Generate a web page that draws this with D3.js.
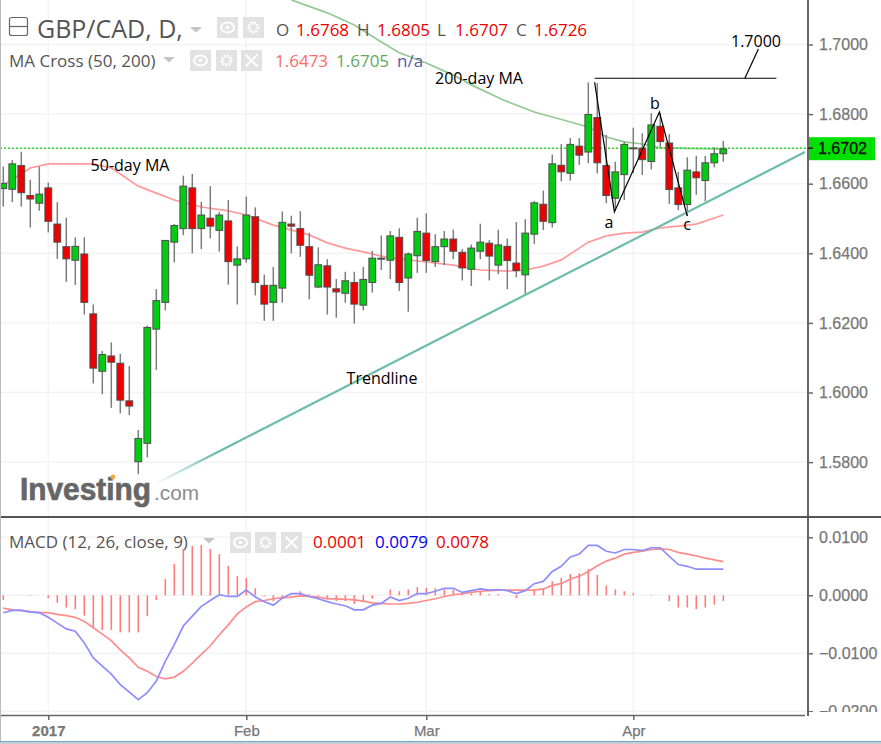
<!DOCTYPE html>
<html><head><meta charset="utf-8">
<script src="https://cdn.jsdelivr.net/npm/d3@7/dist/d3.min.js"></script>
<style>html,body{margin:0;padding:0;background:#fff;overflow:hidden}svg{display:block}</style>
</head><body><div id="c"></div>
<script>
const open_=[1.6586,1.6584,1.6652,1.6566,1.6544,1.6588,1.6484,1.6419,1.6380,1.6398,1.6226,1.6061,1.6105,1.6084,1.5976,1.5801,1.5854,1.6182,1.6259,1.6432,1.6471,1.6588,1.6471,1.6501,1.6466,1.6493,1.6366,1.6384,1.6505,1.6308,1.6259,1.6300,1.6484,1.6471,1.6419,1.6303,1.6364,1.6298,1.6285,1.6316,1.6251,1.6316,1.6385,1.6380,1.6446,1.6329,1.6393,1.6458,1.6376,1.6419,1.6441,1.6403,1.6354,1.6406,1.6429,1.6366,1.6420,1.6372,1.6338,1.6455,1.6541,1.6488,1.6653,1.6630,1.6708,1.6691,1.6790,1.6652,1.6558,1.6626,1.6700,1.6702,1.6664,1.6765,1.6717,1.6588,1.6540,1.6634,1.6609,1.6660,1.6686];
const close_=[1.6601,1.6657,1.6574,1.6556,1.6570,1.6492,1.6432,1.6384,1.6420,1.6259,1.6070,1.6109,1.6087,1.5978,1.5961,1.5868,1.6187,1.6264,1.6437,1.6480,1.6593,1.6471,1.6510,1.6478,1.6510,1.6376,1.6384,1.6510,1.6316,1.6254,1.6308,1.6489,1.6478,1.6423,1.6337,1.6367,1.6303,1.6289,1.6321,1.6254,1.6325,1.6386,1.6386,1.6450,1.6316,1.6398,1.6463,1.6379,1.6419,1.6441,1.6406,1.6358,1.6415,1.6432,1.6392,1.6424,1.6379,1.6350,1.6458,1.6545,1.6492,1.6657,1.6634,1.6713,1.6682,1.6799,1.6660,1.6566,1.6634,1.6713,1.6703,1.6669,1.6769,1.6721,1.6583,1.6540,1.6639,1.6617,1.6660,1.6686,1.6700];
const high_=[1.6649,1.6668,1.6692,1.6611,1.6649,1.6603,1.6547,1.6502,1.6446,1.6446,1.6253,1.6119,1.6144,1.6111,1.6076,1.5892,1.6192,1.6297,1.6437,1.6484,1.6623,1.6628,1.6548,1.6593,1.6519,1.6553,1.6420,1.6563,1.6532,1.6339,1.6361,1.6520,1.6508,1.6521,1.6459,1.6417,1.6383,1.6326,1.6347,1.6347,1.6361,1.6407,1.6451,1.6464,1.6472,1.6403,1.6502,1.6515,1.6455,1.6464,1.6468,1.6412,1.6425,1.6485,1.6438,1.6468,1.6442,1.6490,1.6498,1.6550,1.6580,1.6684,1.6714,1.6731,1.6731,1.6891,1.6889,1.6740,1.6663,1.6721,1.6761,1.6745,1.6803,1.6803,1.6743,1.6634,1.6676,1.6680,1.6680,1.6705,1.6723];
const low_=[1.6534,1.6547,1.6534,1.6474,1.6522,1.6460,1.6384,1.6318,1.6309,1.6224,1.6026,1.5995,1.5956,1.5940,1.5935,1.5765,1.5814,1.6065,1.6236,1.6374,1.6452,1.6400,1.6412,1.6443,1.6405,1.6310,1.6253,1.6373,1.6279,1.6206,1.6206,1.6258,1.6400,1.6390,1.6268,1.6300,1.6224,1.6215,1.6258,1.6198,1.6236,1.6287,1.6352,1.6326,1.6292,1.6232,1.6344,1.6344,1.6361,1.6366,1.6383,1.6322,1.6306,1.6383,1.6322,1.6340,1.6297,1.6331,1.6284,1.6427,1.6467,1.6474,1.6607,1.6609,1.6654,1.6659,1.6630,1.6544,1.6524,1.6553,1.6630,1.6625,1.6641,1.6705,1.6542,1.6524,1.6507,1.6568,1.6550,1.6647,1.6663];
const ma50Day=[0,3,5,10,12,15,17,19,22,25,27,30,34,36,38,40,42,44,47,50,53,56,58,60,62,65,67,69,71,73,75,77,80];
const ma50Val=[1.6596,1.6645,1.6657,1.6657,1.6645,1.6593,1.6573,1.6553,1.6533,1.6522,1.6510,1.6481,1.6453,1.6430,1.6415,1.6404,1.6392,1.6384,1.6375,1.6366,1.6352,1.6349,1.6352,1.6363,1.6381,1.6432,1.6450,1.6458,1.6461,1.6473,1.6478,1.6484,1.6510];
const ma200Day=[32,36,39,42,44,47,50,52,55.5,59,65,67,69,71,73,79,80];
const ma200Val=[1.7128,1.7091,1.7056,1.7007,1.6976,1.6947,1.6912,1.6884,1.6841,1.6806,1.6763,1.6734,1.6720,1.6714,1.6703,1.6700,1.6700];
const histVal=[-0.0008,0,0,-0.0001,0,-0.0005,-0.0013,-0.0021,-0.0024,-0.0035,-0.0055,-0.0060,-0.0060,-0.0064,-0.0064,-0.0064,-0.0036,-0.0008,0.0028,0.0054,0.0080,0.0085,0.0087,0.0080,0.0071,0.0051,0.0033,0.0030,0.0012,-0.0002,-0.0010,-0.0005,0.0001,0.0007,0.0002,-0.0002,-0.0005,-0.0010,-0.0010,-0.0015,-0.0012,-0.0006,0,0.0010,0.0007,0.0010,0.0014,0.0013,0.0012,0.0010,0.0010,0.0006,0.0003,0.0006,0.0002,0.0002,0,-0.0005,0,0.0010,0.0012,0.0024,0.0030,0.0037,0.0038,0.0045,0.0035,0.0017,0.0010,0.0007,0.0004,0,0.0001,0,-0.0010,-0.0021,-0.0021,-0.0024,-0.0021,-0.0016,-0.0010];
const macdVal=[-0.0030,-0.0026,-0.0026,-0.0029,-0.0030,-0.0038,-0.0048,-0.0058,-0.0062,-0.0082,-0.0108,-0.0122,-0.0136,-0.0154,-0.0167,-0.0180,-0.0168,-0.0148,-0.0114,-0.0085,-0.0053,-0.0036,-0.0019,-0.0009,0.0001,-0.0002,-0.0002,0.0009,-0.0003,-0.0011,-0.0017,-0.0005,0.0003,0.0003,-0.0002,-0.0006,-0.0011,-0.0015,-0.0018,-0.0025,-0.0025,-0.0017,-0.0014,-0.0003,-0.0009,-0.0005,0.0003,0.0003,0.0007,0.0012,0.0012,0.0005,0.0008,0.0011,0.0009,0.0010,0.0008,0.0003,0.0008,0.0020,0.0024,0.0041,0.0050,0.0066,0.0071,0.0086,0.0086,0.0076,0.0073,0.0079,0.0079,0.0077,0.0082,0.0082,0.0067,0.0053,0.0050,0.0045,0.0045,0.0045,0.0045];
const signalVal=[-0.0022,-0.0025,-0.0026,-0.0028,-0.0030,-0.0030,-0.0033,-0.0035,-0.0038,-0.0045,-0.0056,-0.0067,-0.0078,-0.0094,-0.0108,-0.0124,-0.0131,-0.0140,-0.0144,-0.0141,-0.0131,-0.0117,-0.0102,-0.0087,-0.0068,-0.0051,-0.0032,-0.0020,-0.0011,-0.0009,-0.0006,-0.0004,-0.0003,-0.0001,-0.0002,-0.0003,-0.0006,-0.0006,-0.0007,-0.0008,-0.0010,-0.0013,-0.0014,-0.0015,-0.0015,-0.0014,-0.0012,-0.0009,-0.0006,-0.0002,0.0001,0.0003,0.0005,0.0007,0.0008,0.0009,0.0009,0.0009,0.0009,0.0009,0.0011,0.0017,0.0020,0.0028,0.0033,0.0041,0.0051,0.0059,0.0064,0.0071,0.0074,0.0076,0.0079,0.0080,0.0079,0.0074,0.0071,0.0068,0.0064,0.0061,0.0058];
const priceTicks=[1.70,1.68,1.66,1.64,1.62,1.60,1.58];
const macdTicks=[0.01,0,-0.01,-0.02];
const dateTickDay=[5,27,47,70];
const dateTickLabel=["2017","Feb","Mar","Apr"];
const lastPrice=1.6702;
const trendDay=[16.86,89.08], trendVal=[1.5737,1.6691];
const waveDay=[65.7,67.9,72.9,76.0], waveVal=[1.6892,1.6519,1.6806,1.6507];
const targetDay=[65.7,85.9], targetVal=[1.6903,1.6903];
const leaderDay=[82.4,83.9], leaderVal=[1.6903,1.6987];
const ohlcLetters=["O","H","L","C"], ohlcValues=["1.6768","1.6805","1.6707","1.6726"];
const maLegend=["1.6473","1.6705","n/a"], macdLegend=["0.0001","0.0079","0.0078"];

const W=881,H=744,axisX=808;
const svg=d3.select("#c").append("svg").attr("width",W).attr("height",H);
const x=d3.scaleLinear().domain([0,80]).range([3.3,723.3]);
const y=d3.scaleLinear().domain([1.70,1.58]).range([44.5,462.1]);
const ym=d3.scaleLinear().domain([0.01,-0.02]).range([537.3,711.3]);
const sans="'Open Sans','Noto Sans',sans-serif", ax="'Liberation Sans',Arial,sans-serif";
svg.append("defs").html(`<clipPath id="top"><rect x="1" y="0" width="${axisX-1}" height="516"/></clipPath>
<clipPath id="bot"><rect x="1" y="518" width="${axisX-1}" height="197"/></clipPath>
<clipPath id="axb"><rect x="${axisX}" y="518" width="73" height="194"/></clipPath>
<linearGradient id="tg" x1="0" x2="1"><stop offset="0" stop-color="#fff"/><stop offset="0.09" stop-color="#6dbcaa"/></linearGradient>`);

// grid
const grid=svg.append("g").attr("stroke","#f3f3f3").attr("stroke-width",1.5);
dateTickDay.forEach(d=>grid.append("line").attr("x1",x(d)).attr("x2",x(d)).attr("y1",0).attr("y2",715));
priceTicks.forEach(v=>grid.append("line").attr("x1",0).attr("x2",axisX).attr("y1",y(v)).attr("y2",y(v)));
macdTicks.forEach(v=>grid.append("line").attr("x1",0).attr("x2",axisX).attr("y1",ym(v)).attr("y2",ym(v)));

// price panel
const pricePanel=svg.append("g").attr("clip-path","url(#top)");
const lineP=d3.line().x(d=>x(d[0])).y(d=>y(d[1]));
const lineM=d3.line().x((d,i)=>x(i)).y(d=>ym(d));
pricePanel.append("path").attr("d",lineP(d3.zip(ma200Day,ma200Val))).attr("fill","none").attr("stroke","#93c993").attr("stroke-width",1.7);
pricePanel.append("path").attr("d",lineP(d3.zip(ma50Day,ma50Val))).attr("fill","none").attr("stroke","#ff9a9a").attr("stroke-width",1.7);
pricePanel.append("line").attr("x1",0).attr("x2",axisX).attr("y1",y(lastPrice)).attr("y2",y(lastPrice)).attr("stroke","#1fdc1f").attr("stroke-width",1.5).attr("stroke-dasharray","2 2");

const days=d3.range(open_.length);
pricePanel.append("g").selectAll("line").data(days).join("line")
 .attr("x1",i=>x(i)).attr("x2",i=>x(i)).attr("y1",i=>y(high_[i])).attr("y2",i=>y(low_[i]))
 .attr("stroke","#7d7d7d").attr("stroke-width",1.5);
pricePanel.append("g").selectAll("rect").data(days).join("rect")
 .attr("x",i=>x(i)-3.4).attr("width",6.8)
 .attr("y",i=>y(Math.max(open_[i],close_[i])))
 .attr("height",i=>Math.max(1,Math.abs(y(open_[i])-y(close_[i]))))
 .attr("fill",i=>close_[i]>=open_[i]?"#00cc11":"#ee0000")
 .attr("stroke","#4d4d4d").attr("stroke-width",1);

// trendline + annotations
pricePanel.append("path").attr("d",lineP(d3.zip(trendDay,trendVal))).attr("fill","none").attr("stroke","url(#tg)").attr("stroke-width",2.2);
const ann=pricePanel.append("g").attr("fill","none").attr("stroke","#000").attr("stroke-width",1.2);
ann.append("path").attr("d",lineP(d3.zip(waveDay,waveVal)));
ann.append("path").attr("d",lineP(d3.zip(targetDay,targetVal)));
ann.append("path").attr("d",lineP(d3.zip(leaderDay,leaderVal)));
const note=(t,xx,yy)=>svg.append("text").text(t).attr("x",xx).attr("y",yy).attr("font-family",sans).attr("font-size",16).attr("fill","#000").attr("text-anchor","middle");
note("1.7000",756,47);note("200-day MA",479,84);note("50-day MA",130,171);note("Trendline",382,384);
note("a",609,228);note("b",655,109);note("c",687,230);

// watermark
const wm=svg.append("g").attr("font-family",ax);
wm.append("text").text("Investing").attr("x",20).attr("y",500).attr("font-size",31).attr("font-weight",700).attr("fill","#666").attr("stroke","#666").attr("stroke-width",0.7).attr("textLength",131).attr("lengthAdjust","spacingAndGlyphs");
wm.append("text").text(".com").attr("x",154).attr("y",500).attr("font-size",20).attr("fill","#8c8c8c").attr("textLength",45).attr("lengthAdjust","spacingAndGlyphs");
wm.append("circle").attr("cx",113).attr("cy",477).attr("r",2.4).attr("fill","#f5a93c");

// MACD panel
const macdPanel=svg.append("g").attr("clip-path","url(#bot)");
macdPanel.append("g").selectAll("line").data(days).join("line")
 .attr("x1",i=>x(i)).attr("x2",i=>x(i)).attr("y1",ym(0)).attr("y2",i=>ym(histVal[i]))
 .attr("stroke","#ff7b7b").attr("stroke-width",1.6);
macdPanel.append("path").attr("d",lineM(signalVal)).attr("fill","none").attr("stroke","#ff8c8c").attr("stroke-width",1.7);
macdPanel.append("path").attr("d",lineM(macdVal)).attr("fill","none").attr("stroke","#8d8dff").attr("stroke-width",1.7);

// axes
function styleAxis(g){g.selectAll("text").attr("font-family",ax).attr("font-size",16).attr("fill","#777").attr("stroke","#777").attr("stroke-width",0.25);
 g.selectAll("line").attr("stroke","#666").attr("stroke-width",1.5);g.select(".domain").remove();}
svg.append("g").attr("transform",`translate(${axisX},0)`).call(d3.axisRight(y).tickValues(priceTicks).tickSize(5).tickPadding(6).tickFormat(d3.format(".4f"))).call(styleAxis);
svg.append("g").attr("clip-path","url(#axb)").append("g").attr("transform",`translate(${axisX},0)`).call(d3.axisRight(ym).tickValues(macdTicks).tickSize(5).tickPadding(6).tickFormat(d3.format(".4f"))).call(styleAxis);
svg.append("g").attr("transform","translate(0,715)").call(d3.axisBottom(x).tickValues(dateTickDay).tickSize(5).tickPadding(5).tickFormat((d,i)=>dateTickLabel[i])).call(styleAxis)
 .selectAll("text").attr("font-size",15).attr("font-weight",d=>d===5?700:400);
const frameG=svg.append("g").attr("stroke","#666").attr("fill","none");
frameG.append("line").attr("x1",axisX).attr("x2",axisX).attr("y1",0).attr("y2",716).attr("stroke-width",2);
frameG.append("line").attr("x1",0).attr("x2",881).attr("y1",517).attr("y2",517).attr("stroke-width",2).attr("stroke","#555");
frameG.append("line").attr("x1",0).attr("x2",805).attr("y1",715.5).attr("y2",715.5).attr("stroke-width",1.5);
frameG.append("line").attr("x1",0.5).attr("x2",0.5).attr("y1",0).attr("y2",741).attr("stroke","#bbb");
svg.append("rect").attr("x",0).attr("y",741).attr("width",881).attr("height",1.5).attr("fill","#6ea6cc");
svg.append("rect").attr("x",0).attr("y",742.5).attr("width",881).attr("height",2).attr("fill","#ccc");

// last price tag
svg.append("rect").attr("x",axisX+1).attr("y",y(lastPrice)-11).attr("width",66).attr("height",23).attr("fill","#00e000");
svg.append("line").attr("x1",axisX).attr("x2",axisX+5).attr("y1",y(lastPrice)).attr("y2",y(lastPrice)).attr("stroke","#222").attr("stroke-width",1.5);
svg.append("text").text(d3.format(".4f")(lastPrice)).attr("x",axisX+10).attr("y",y(lastPrice)+6).attr("font-family",ax).attr("font-size",16).attr("fill","#111").attr("stroke","#111").attr("stroke-width",0.3);

// legends
const txt=(t,xx,yy,fs,col)=>svg.append("text").text(t).attr("x",xx).attr("y",yy).attr("font-family",sans).attr("font-size",fs).attr("fill",col);
const btn=(bx,by,w,h)=>svg.append("rect").attr("x",bx).attr("y",by).attr("width",w).attr("height",h).attr("fill","#e2e2e2");
const tri=(tx,ty)=>svg.append("path").attr("d",`M${tx},${ty}h12l-6,5.5z`).attr("fill","#c4c4c4");
function icons(xs,by){xs.forEach((bx,i)=>{btn(bx,by,21,21);
 const cx=bx+10.5,cy=by+10.5;
 if(i===0){svg.append("ellipse").attr("cx",cx).attr("cy",cy).attr("rx",6.5).attr("ry",5).attr("fill","none").attr("stroke","#fff").attr("stroke-width",2);svg.append("circle").attr("cx",cx).attr("cy",cy).attr("r",1.8).attr("fill","#fff");}
 if(i===1){svg.append("circle").attr("cx",cx).attr("cy",cy).attr("r",4.5).attr("fill","none").attr("stroke","#fff").attr("stroke-width",3).attr("stroke-dasharray","2 1");}
 if(i===2){svg.append("path").attr("d",`M${cx-6},${cy-6}L${cx+6},${cy+6}M${cx+6},${cy-6}L${cx-6},${cy+6}`).attr("stroke","#fff").attr("stroke-width",2);}
});}
svg.append("rect").attr("x",9.5).attr("y",17.5).attr("width",18).attr("height",18).attr("rx",2).attr("fill","none").attr("stroke","#666").attr("stroke-width",1.2);
svg.append("line").attr("x1",10).attr("x2",27).attr("y1",26.5).attr("y2",26.5).attr("stroke","#666").attr("stroke-width",1.2);
txt("GBP/CAD, D,",37,37.5,25,"#555");
tri(190,27);icons([217,243],17);
const ohlcX=[276,357,437,516], ohlcVx=[296,377,455,534];
ohlcLetters.forEach((l,i)=>{txt(l,ohlcX[i],35.5,17,"#555");txt(ohlcValues[i],ohlcVx[i],35.5,17,"#ee0000");});
txt("MA Cross (50, 200)",9,66.5,17,"#555");
tri(163,57);icons([190,216,241],50);
txt(maLegend[0],275,66.5,17,"#ff6a6a");txt(maLegend[1],336,66.5,17,"#5fa85f");txt(maLegend[2],397,66.5,17,"#5a5aa8");
txt("MACD (12, 26, close, 9)",9,547.5,17,"#555");
tri(203,538);icons([230,255,281],532);
txt(macdLegend[0],313,547.5,17,"#ee0000");txt(macdLegend[1],375,547.5,17,"#0000ee");txt(macdLegend[2],436,547.5,17,"#ee0000");
</script></body></html>
